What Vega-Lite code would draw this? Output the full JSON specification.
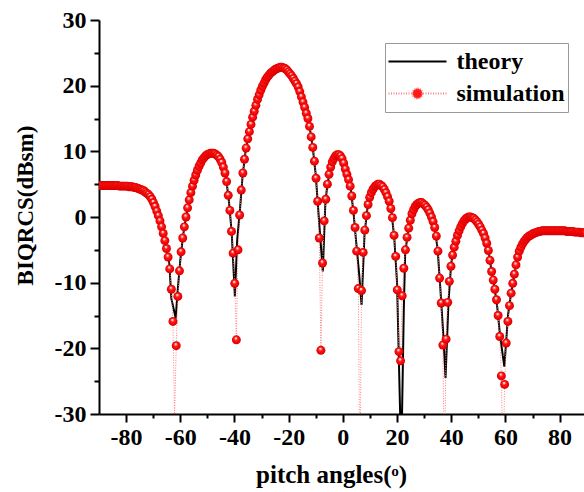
{
  "$schema": "https://vega.github.io/schema/vega-lite/v6.json",
  "width": 485,
  "height": 394,
  "autosize": {"type": "none"},
  "padding": {"left": 99, "top": 20, "right": 0, "bottom": 78},
  "background": "white",
  "config": {
    "view": {"stroke": null},
    "axis": {
      "grid": false,
      "domainColor": "black",
      "domainWidth": 2,
      "tickColor": "black",
      "tickWidth": 2,
      "labelFont": "Liberation Serif",
      "labelFontWeight": "bold",
      "labelFontSize": 24,
      "labelColor": "black",
      "labelOverlap": false,
      "labelFlush": false,
      "titleFont": "Liberation Serif",
      "titleFontWeight": "bold",
      "titleFontSize": 25,
      "titleColor": "black"
    },
    "legend": {
      "orient": "none",
      "legendX": 286,
      "legendY": 23,
      "padding": 2.5,
      "rowPadding": 0,
      "clipHeight": 32,
      "symbolSize": 3364,
      "symbolStrokeWidth": 2,
      "labelOffset": 9,
      "labelFont": "Liberation Serif",
      "labelFontWeight": "bold",
      "labelFontSize": 24,
      "labelColor": "black",
      "fillColor": "white",
      "strokeColor": "#999999"
    }
  },
  "resolve": {"axis": {"x": "independent", "y": "independent"}},
  "datasets": {
    "theory": [
      {"x": -90, "y": 4.8}, {"x": -89, "y": 4.8}, {"x": -88, "y": 4.8}, {"x": -87, "y": 4.8}, {"x": -86, "y": 4.8},
      {"x": -85, "y": 4.8}, {"x": -84, "y": 4.8}, {"x": -83, "y": 4.8}, {"x": -82, "y": 4.7}, {"x": -81, "y": 4.7},
      {"x": -80, "y": 4.7}, {"x": -79, "y": 4.6}, {"x": -78, "y": 4.6}, {"x": -77, "y": 4.5}, {"x": -76, "y": 4.4},
      {"x": -75, "y": 4.3}, {"x": -74, "y": 4.1}, {"x": -73, "y": 3.9}, {"x": -72, "y": 3.5}, {"x": -71, "y": 3.0},
      {"x": -70, "y": 2.3}, {"x": -69, "y": 1.3}, {"x": -68, "y": 0.1}, {"x": -67, "y": -1.4}, {"x": -66, "y": -3.0},
      {"x": -65, "y": -4.9}, {"x": -64, "y": -7.3}, {"x": -63.3, "y": -12.4}, {"x": -61.7, "y": -15.4}, {"x": -61, "y": -11.4},
      {"x": -60, "y": -6.6}, {"x": -59, "y": -2.9}, {"x": -58, "y": -0.3}, {"x": -57, "y": 2.0}, {"x": -56, "y": 3.9},
      {"x": -55, "y": 5.4}, {"x": -54, "y": 6.7}, {"x": -53, "y": 7.8}, {"x": -52, "y": 8.6}, {"x": -51, "y": 9.2},
      {"x": -50, "y": 9.5}, {"x": -49, "y": 9.7}, {"x": -48, "y": 9.7}, {"x": -47, "y": 9.6}, {"x": -46, "y": 9.2},
      {"x": -45, "y": 8.6}, {"x": -44, "y": 7.5}, {"x": -43, "y": 5.6}, {"x": -42, "y": 2.2}, {"x": -41, "y": -2.5},
      {"x": -39.85, "y": -12.1}, {"x": -39, "y": -3.5}, {"x": -38, "y": 1.0}, {"x": -37, "y": 6.3}, {"x": -36, "y": 9.7},
      {"x": -35, "y": 12.1}, {"x": -34, "y": 13.9}, {"x": -33, "y": 15.6}, {"x": -32, "y": 17.2}, {"x": -31, "y": 18.5},
      {"x": -30, "y": 19.6}, {"x": -29, "y": 20.5}, {"x": -28, "y": 21.2}, {"x": -27, "y": 21.8}, {"x": -26, "y": 22.2},
      {"x": -25, "y": 22.5}, {"x": -24, "y": 22.7}, {"x": -23, "y": 22.8}, {"x": -22, "y": 22.7}, {"x": -21, "y": 22.5},
      {"x": -20, "y": 22.1}, {"x": -19, "y": 21.5}, {"x": -18, "y": 20.9}, {"x": -17, "y": 20.2}, {"x": -16, "y": 19.2},
      {"x": -15, "y": 17.9}, {"x": -14, "y": 16.5}, {"x": -13, "y": 15.1}, {"x": -12, "y": 13.0}, {"x": -11, "y": 10.2},
      {"x": -10, "y": 6.4}, {"x": -9, "y": 0.6}, {"x": -7.4, "y": -8.3}, {"x": -6.5, "y": 1.7}, {"x": -6, "y": 3.9},
      {"x": -5, "y": 6.7}, {"x": -4, "y": 8.3}, {"x": -3, "y": 9.1}, {"x": -2, "y": 9.5}, {"x": -1, "y": 9.3},
      {"x": 0, "y": 8.6}, {"x": 1, "y": 7.2}, {"x": 2, "y": 5.8}, {"x": 3, "y": 4.0}, {"x": 4, "y": 0.4},
      {"x": 5, "y": -4.2}, {"x": 6, "y": -8.6}, {"x": 6.9, "y": -13.4}, {"x": 8, "y": -2.6}, {"x": 9, "y": 1.1},
      {"x": 10, "y": 3.1}, {"x": 11, "y": 4.1}, {"x": 12, "y": 4.7}, {"x": 13, "y": 5.0}, {"x": 14, "y": 4.8},
      {"x": 15, "y": 4.4}, {"x": 16, "y": 3.6}, {"x": 17, "y": 2.5}, {"x": 18, "y": 0.6}, {"x": 19, "y": -3.3},
      {"x": 20, "y": -10.0}, {"x": 21.55, "y": -37}, {"x": 22.5, "y": -14}, {"x": 23, "y": -5.5}, {"x": 24, "y": -2.4},
      {"x": 25, "y": -0.3}, {"x": 26, "y": 1.0}, {"x": 27, "y": 1.8}, {"x": 28, "y": 2.1}, {"x": 29, "y": 2.2},
      {"x": 30, "y": 1.9}, {"x": 31, "y": 1.4}, {"x": 32, "y": 0.7}, {"x": 33, "y": -0.3}, {"x": 34, "y": -1.8},
      {"x": 35, "y": -5.0}, {"x": 36, "y": -11.0}, {"x": 37, "y": -17.5}, {"x": 37.9, "y": -24.5}, {"x": 39, "y": -12.8},
      {"x": 40, "y": -7.0}, {"x": 41, "y": -4.8}, {"x": 42, "y": -3.2}, {"x": 43, "y": -2.0}, {"x": 44, "y": -1.1},
      {"x": 45, "y": -0.4}, {"x": 46, "y": -0.1}, {"x": 47, "y": 0.0}, {"x": 48, "y": -0.1}, {"x": 49, "y": -0.5},
      {"x": 50, "y": -1.0}, {"x": 51, "y": -1.7}, {"x": 52, "y": -2.6}, {"x": 53, "y": -3.9}, {"x": 54, "y": -5.8},
      {"x": 55, "y": -8.6}, {"x": 56, "y": -10.8}, {"x": 57, "y": -13.8}, {"x": 58, "y": -18.0}, {"x": 59.6, "y": -22.8},
      {"x": 61, "y": -14.8}, {"x": 62, "y": -11.9}, {"x": 63, "y": -9.4}, {"x": 64, "y": -7.1}, {"x": 65, "y": -5.3},
      {"x": 66, "y": -4.3}, {"x": 67, "y": -3.6}, {"x": 68, "y": -3.2}, {"x": 69, "y": -2.8}, {"x": 70, "y": -2.6},
      {"x": 71, "y": -2.4}, {"x": 72, "y": -2.2}, {"x": 73, "y": -2.2}, {"x": 74, "y": -2.1}, {"x": 75, "y": -2.1},
      {"x": 76, "y": -2.1}, {"x": 77, "y": -2.1}, {"x": 78, "y": -2.1}, {"x": 79, "y": -2.1}, {"x": 80, "y": -2.1},
      {"x": 81, "y": -2.1}, {"x": 82, "y": -2.1}, {"x": 83, "y": -2.2}, {"x": 84, "y": -2.2}, {"x": 85, "y": -2.2},
      {"x": 86, "y": -2.3}, {"x": 87, "y": -2.3}, {"x": 88, "y": -2.4}, {"x": 89, "y": -2.4}, {"x": 90, "y": -2.4}
    ],
    "simulation": [
      {"x": -89.7, "y": 4.8}, {"x": -89.1, "y": 4.8}, {"x": -88.5, "y": 4.8}, {"x": -87.9, "y": 4.8}, {"x": -87.3, "y": 4.8},
      {"x": -86.7, "y": 4.8}, {"x": -86.1, "y": 4.8}, {"x": -85.5, "y": 4.8}, {"x": -84.9, "y": 4.8}, {"x": -84.3, "y": 4.8},
      {"x": -83.7, "y": 4.8}, {"x": -83.1, "y": 4.8}, {"x": -82.5, "y": 4.7}, {"x": -81.9, "y": 4.7}, {"x": -81.3, "y": 4.7},
      {"x": -80.7, "y": 4.7}, {"x": -80.1, "y": 4.7}, {"x": -79.5, "y": 4.7}, {"x": -78.9, "y": 4.6}, {"x": -78.3, "y": 4.6},
      {"x": -77.7, "y": 4.6}, {"x": -77.1, "y": 4.5}, {"x": -76.5, "y": 4.5}, {"x": -75.9, "y": 4.4}, {"x": -75.3, "y": 4.3},
      {"x": -74.7, "y": 4.2}, {"x": -74.1, "y": 4.1}, {"x": -73.5, "y": 4.0}, {"x": -72.9, "y": 3.8}, {"x": -72.3, "y": 3.6},
      {"x": -71.7, "y": 3.4}, {"x": -71.1, "y": 3.1}, {"x": -70.5, "y": 2.7}, {"x": -69.9, "y": 2.2}, {"x": -69.3, "y": 1.6},
      {"x": -68.7, "y": 0.9}, {"x": -68.1, "y": 0.2}, {"x": -67.5, "y": -0.6}, {"x": -66.9, "y": -1.5}, {"x": -66.3, "y": -2.5},
      {"x": -65.7, "y": -3.6}, {"x": -65.1, "y": -4.8}, {"x": -64.5, "y": -6.1}, {"x": -63.9, "y": -7.9}, {"x": -63.3, "y": -11.0},
      {"x": -62.7, "y": -15.9}, {"x": -62.1, "y": -30.6}, {"x": -61.5, "y": -19.6}, {"x": -60.9, "y": -12.1}, {"x": -60.3, "y": -8.2},
      {"x": -59.7, "y": -5.3}, {"x": -59.1, "y": -3.2}, {"x": -58.5, "y": -1.5}, {"x": -57.9, "y": 0.0}, {"x": -57.3, "y": 1.4},
      {"x": -56.7, "y": 2.6}, {"x": -56.1, "y": 3.7}, {"x": -55.5, "y": 4.7}, {"x": -54.9, "y": 5.6}, {"x": -54.3, "y": 6.4},
      {"x": -53.7, "y": 7.1}, {"x": -53.1, "y": 7.7}, {"x": -52.5, "y": 8.2}, {"x": -51.9, "y": 8.7}, {"x": -51.3, "y": 9.0},
      {"x": -50.7, "y": 9.3}, {"x": -50.1, "y": 9.5}, {"x": -49.5, "y": 9.6}, {"x": -48.9, "y": 9.7}, {"x": -48.3, "y": 9.7},
      {"x": -47.7, "y": 9.7}, {"x": -47.1, "y": 9.6}, {"x": -46.5, "y": 9.4}, {"x": -45.9, "y": 9.2}, {"x": -45.3, "y": 8.8},
      {"x": -44.7, "y": 8.3}, {"x": -44.1, "y": 7.6}, {"x": -43.5, "y": 6.7}, {"x": -42.9, "y": 5.4}, {"x": -42.3, "y": 3.3},
      {"x": -41.7, "y": 1.0}, {"x": -41.1, "y": -2.2}, {"x": -40.5, "y": -5.5}, {"x": -39.9, "y": -10.1}, {"x": -39.3, "y": -18.7},
      {"x": -38.7, "y": -5.0}, {"x": -38.1, "y": 0.3}, {"x": -37.5, "y": 4.1}, {"x": -36.9, "y": 6.7}, {"x": -36.3, "y": 8.8},
      {"x": -35.7, "y": 10.5}, {"x": -35.1, "y": 11.9}, {"x": -34.5, "y": 13.0}, {"x": -33.9, "y": 14.1}, {"x": -33.3, "y": 15.2},
      {"x": -32.7, "y": 16.1}, {"x": -32.1, "y": 17.0}, {"x": -31.5, "y": 17.9}, {"x": -30.9, "y": 18.6}, {"x": -30.3, "y": 19.3},
      {"x": -29.7, "y": 19.9}, {"x": -29.1, "y": 20.4}, {"x": -28.5, "y": 20.9}, {"x": -27.9, "y": 21.3}, {"x": -27.3, "y": 21.6},
      {"x": -26.7, "y": 21.9}, {"x": -26.1, "y": 22.1}, {"x": -25.5, "y": 22.3}, {"x": -24.9, "y": 22.5}, {"x": -24.3, "y": 22.6},
      {"x": -23.7, "y": 22.7}, {"x": -23.1, "y": 22.8}, {"x": -22.5, "y": 22.8}, {"x": -21.9, "y": 22.7}, {"x": -21.3, "y": 22.6},
      {"x": -20.7, "y": 22.4}, {"x": -20.1, "y": 22.1}, {"x": -19.5, "y": 21.8}, {"x": -18.9, "y": 21.5}, {"x": -18.3, "y": 21.1},
      {"x": -17.7, "y": 20.7}, {"x": -17.1, "y": 20.3}, {"x": -16.5, "y": 19.8}, {"x": -15.9, "y": 19.1}, {"x": -15.3, "y": 18.3},
      {"x": -14.7, "y": 17.5}, {"x": -14.1, "y": 16.7}, {"x": -13.5, "y": 15.8}, {"x": -12.9, "y": 15.0}, {"x": -12.3, "y": 13.8},
      {"x": -11.7, "y": 12.2}, {"x": -11.1, "y": 10.6}, {"x": -10.5, "y": 8.5}, {"x": -9.9, "y": 5.9}, {"x": -9.3, "y": 2.4},
      {"x": -8.7, "y": -3.2}, {"x": -8.1, "y": -20.3}, {"x": -7.5, "y": -7.0}, {"x": -6.9, "y": -0.6}, {"x": -6.3, "y": 2.7},
      {"x": -5.7, "y": 5.0}, {"x": -5.1, "y": 6.5}, {"x": -4.5, "y": 7.6}, {"x": -3.9, "y": 8.4}, {"x": -3.3, "y": 8.9},
      {"x": -2.7, "y": 9.3}, {"x": -2.1, "y": 9.5}, {"x": -1.5, "y": 9.5}, {"x": -0.9, "y": 9.3}, {"x": -0.3, "y": 8.9},
      {"x": 0.3, "y": 8.2}, {"x": 0.9, "y": 7.3}, {"x": 1.5, "y": 6.5}, {"x": 2.1, "y": 5.7}, {"x": 2.7, "y": 4.7},
      {"x": 3.3, "y": 3.2}, {"x": 3.9, "y": 1.0}, {"x": 4.5, "y": -1.6}, {"x": 5.1, "y": -5.2}, {"x": 5.7, "y": -10.9},
      {"x": 6.3, "y": -40}, {"x": 6.9, "y": -11.2}, {"x": 7.5, "y": -5.4}, {"x": 8.1, "y": -2.0}, {"x": 8.7, "y": 0.2},
      {"x": 9.3, "y": 1.9}, {"x": 9.9, "y": 3.0}, {"x": 10.5, "y": 3.7}, {"x": 11.1, "y": 4.2}, {"x": 11.7, "y": 4.6},
      {"x": 12.3, "y": 4.8}, {"x": 12.9, "y": 5.0}, {"x": 13.5, "y": 5.0}, {"x": 14.1, "y": 4.8}, {"x": 14.7, "y": 4.6},
      {"x": 15.3, "y": 4.2}, {"x": 15.9, "y": 3.7}, {"x": 16.5, "y": 3.1}, {"x": 17.1, "y": 2.4}, {"x": 17.7, "y": 1.3},
      {"x": 18.3, "y": -0.1}, {"x": 18.9, "y": -2.8}, {"x": 19.5, "y": -6.0}, {"x": 20.1, "y": -11.1}, {"x": 20.7, "y": -20.5},
      {"x": 21.3, "y": -21.9}, {"x": 21.9, "y": -12.0}, {"x": 22.5, "y": -7.8}, {"x": 23.1, "y": -5.0}, {"x": 23.7, "y": -3.1},
      {"x": 24.3, "y": -1.7}, {"x": 24.9, "y": -0.5}, {"x": 25.5, "y": 0.5}, {"x": 26.1, "y": 1.1}, {"x": 26.7, "y": 1.6},
      {"x": 27.3, "y": 1.9}, {"x": 27.9, "y": 2.1}, {"x": 28.5, "y": 2.2}, {"x": 29.1, "y": 2.2}, {"x": 29.7, "y": 2.0},
      {"x": 30.3, "y": 1.8}, {"x": 30.9, "y": 1.5}, {"x": 31.5, "y": 1.1}, {"x": 32.1, "y": 0.6}, {"x": 32.7, "y": 0.0},
      {"x": 33.3, "y": -0.7}, {"x": 33.9, "y": -1.6}, {"x": 34.5, "y": -2.9}, {"x": 35.1, "y": -5.2}, {"x": 35.7, "y": -9.3},
      {"x": 36.3, "y": -13.1}, {"x": 36.9, "y": -19.5}, {"x": 37.5, "y": -40}, {"x": 38.1, "y": -18.6}, {"x": 38.7, "y": -13.0},
      {"x": 39.3, "y": -9.8}, {"x": 39.9, "y": -7.5}, {"x": 40.5, "y": -5.8}, {"x": 41.1, "y": -4.6}, {"x": 41.7, "y": -3.7},
      {"x": 42.3, "y": -2.8}, {"x": 42.9, "y": -2.1}, {"x": 43.5, "y": -1.5}, {"x": 44.1, "y": -1.0}, {"x": 44.7, "y": -0.6},
      {"x": 45.3, "y": -0.3}, {"x": 45.9, "y": -0.1}, {"x": 46.5, "y": 0.0}, {"x": 47.1, "y": 0.0}, {"x": 47.7, "y": -0.1},
      {"x": 48.3, "y": -0.2}, {"x": 48.9, "y": -0.45}, {"x": 49.5, "y": -0.75}, {"x": 50.1, "y": -1.1}, {"x": 50.7, "y": -1.5},
      {"x": 51.3, "y": -2.0}, {"x": 51.9, "y": -2.5}, {"x": 52.5, "y": -3.2}, {"x": 53.1, "y": -4.0}, {"x": 53.7, "y": -5.1},
      {"x": 54.3, "y": -6.6}, {"x": 54.9, "y": -8.3}, {"x": 55.5, "y": -9.6}, {"x": 56.1, "y": -11.0}, {"x": 56.7, "y": -12.6},
      {"x": 57.3, "y": -15.0}, {"x": 57.9, "y": -18.2}, {"x": 58.5, "y": -24.2}, {"x": 59.1, "y": -40}, {"x": 59.7, "y": -25.5},
      {"x": 60.3, "y": -19.2}, {"x": 60.9, "y": -15.9}, {"x": 61.5, "y": -13.5}, {"x": 62.1, "y": -11.6}, {"x": 62.7, "y": -10.1},
      {"x": 63.3, "y": -8.7}, {"x": 63.9, "y": -7.3}, {"x": 64.5, "y": -6.1}, {"x": 65.1, "y": -5.2}, {"x": 65.7, "y": -4.6},
      {"x": 66.3, "y": -4.1}, {"x": 66.9, "y": -3.7}, {"x": 67.5, "y": -3.4}, {"x": 68.1, "y": -3.1}, {"x": 68.7, "y": -2.9},
      {"x": 69.3, "y": -2.8}, {"x": 69.9, "y": -2.6}, {"x": 70.5, "y": -2.5}, {"x": 71.1, "y": -2.4}, {"x": 71.7, "y": -2.3},
      {"x": 72.3, "y": -2.2}, {"x": 72.9, "y": -2.2}, {"x": 73.5, "y": -2.1}, {"x": 74.1, "y": -2.1}, {"x": 74.7, "y": -2.1},
      {"x": 75.3, "y": -2.1}, {"x": 75.9, "y": -2.1}, {"x": 76.5, "y": -2.1}, {"x": 77.1, "y": -2.1}, {"x": 77.7, "y": -2.1},
      {"x": 78.3, "y": -2.1}, {"x": 78.9, "y": -2.1}, {"x": 79.5, "y": -2.1}, {"x": 80.1, "y": -2.1}, {"x": 80.7, "y": -2.1},
      {"x": 81.3, "y": -2.1}, {"x": 81.9, "y": -2.1}, {"x": 82.5, "y": -2.2}, {"x": 83.1, "y": -2.2}, {"x": 83.7, "y": -2.2},
      {"x": 84.3, "y": -2.2}, {"x": 84.9, "y": -2.2}, {"x": 85.5, "y": -2.3}, {"x": 86.1, "y": -2.3}, {"x": 86.7, "y": -2.3},
      {"x": 87.3, "y": -2.3}, {"x": 87.9, "y": -2.4}, {"x": 88.5, "y": -2.4}, {"x": 89.1, "y": -2.4}, {"x": 89.7, "y": -2.4}
    ]
  },
  "layer": [
    {
      "data": {"name": "theory"},
      "mark": {"type": "line", "clip": true, "strokeWidth": 2},
      "encoding": {
        "x": {
          "field": "x",
          "type": "quantitative",
          "scale": {"domain": [-90, 89], "nice": false, "zero": false},
          "axis": {
            "orient": "bottom",
            "values": [-80, -60, -40, -20, 0, 20, 40, 60, 80],
            "labelExpr": "'' + datum.value",
            "tickSize": 8,
            "labelPadding": 3,
            "title": "pitch angles(ᵒ)",
            "titleX": 232,
            "titleY": 68,
            "titleAlign": "center",
            "titleBaseline": "alphabetic"
          }
        },
        "y": {
          "field": "y",
          "type": "quantitative",
          "scale": {"domain": [-30, 30], "nice": false, "zero": false},
          "axis": {
            "orient": "left",
            "values": [-30, -20, -10, 0, 10, 20, 30],
            "labelExpr": "'' + datum.value",
            "tickSize": 9,
            "labelPadding": 4,
            "title": "BIQRCS(dBsm)",
            "titleFontSize": 23,
            "titleAngle": 270,
            "titleX": -67,
            "titleY": 185,
            "titleAlign": "center",
            "titleBaseline": "alphabetic"
          }
        },
        "color": {
          "datum": "theory",
          "type": "nominal",
          "scale": {"domain": ["theory", "simulation"], "range": ["black", "#ff8080"]},
          "legend": {"title": null}
        },
        "strokeDash": {
          "datum": "theory",
          "type": "nominal",
          "scale": {"domain": ["theory", "simulation"], "range": [[1, 0], [1, 1.5]]},
          "legend": {"title": null}
        }
      }
    },
    {
      "data": {"name": "simulation"},
      "mark": {"type": "line", "clip": true, "strokeWidth": 1},
      "encoding": {
        "x": {"field": "x", "type": "quantitative", "axis": null},
        "y": {"field": "y", "type": "quantitative", "axis": null},
        "color": {"datum": "simulation", "type": "nominal", "legend": {"title": null}},
        "strokeDash": {"datum": "simulation", "type": "nominal", "legend": {"title": null}}
      }
    },
    {
      "data": {"name": "simulation"},
      "mark": {
        "type": "point",
        "clip": true,
        "filled": true,
        "size": 80,
        "strokeWidth": 0,
        "opacity": 1,
        "fill": {"gradient": "radial", "x1": 0.42, "y1": 0.28, "r1": 0, "x2": 0.5, "y2": 0.5, "r2": 0.5, "stops": [{"offset": 0, "color": "#ffffff"}, {"offset": 0.18, "color": "#ffc8c8"}, {"offset": 0.4, "color": "#ff1a1a"}, {"offset": 0.85, "color": "#f00000"}, {"offset": 1, "color": "#c80000"}]}
      },
      "encoding": {
        "x": {
          "field": "x",
          "type": "quantitative",
          "axis": {"orient": "bottom", "values": [-70, -50, -30, -10, 10, 30, 50, 70], "tickSize": 4, "labels": false, "domain": false, "title": null}
        },
        "y": {
          "field": "y",
          "type": "quantitative",
          "axis": {"orient": "left", "values": [-25, -15, -5, 5, 15, 25], "tickSize": 5, "labels": false, "domain": false, "title": null}
        }
      }
    },
    {
      "data": {"name": "simulation"},
      "transform": [{"filter": "datum.x > 1000"}],
      "mark": {"type": "point", "filled": true, "strokeWidth": 1},
      "encoding": {
        "x": {"field": "x", "type": "quantitative", "axis": null},
        "y": {"field": "y", "type": "quantitative", "axis": null},
        "shape": {
          "datum": "simulation",
          "type": "nominal",
          "scale": {"domain": ["theory", "simulation"], "range": ["stroke", "M-1,0H-0.19M0.19,0H1M0.172,0A0.172,0.172,0,1,1,-0.172,0A0.172,0.172,0,1,1,0.172,0Z"]},
          "legend": {"title": null}
        },
        "fill": {
          "datum": "simulation",
          "type": "nominal",
          "scale": {"domain": ["theory", "simulation"], "range": ["transparent", "#ff1a1a"]},
          "legend": {"title": null}
        }
      }
    }
  ]
}
